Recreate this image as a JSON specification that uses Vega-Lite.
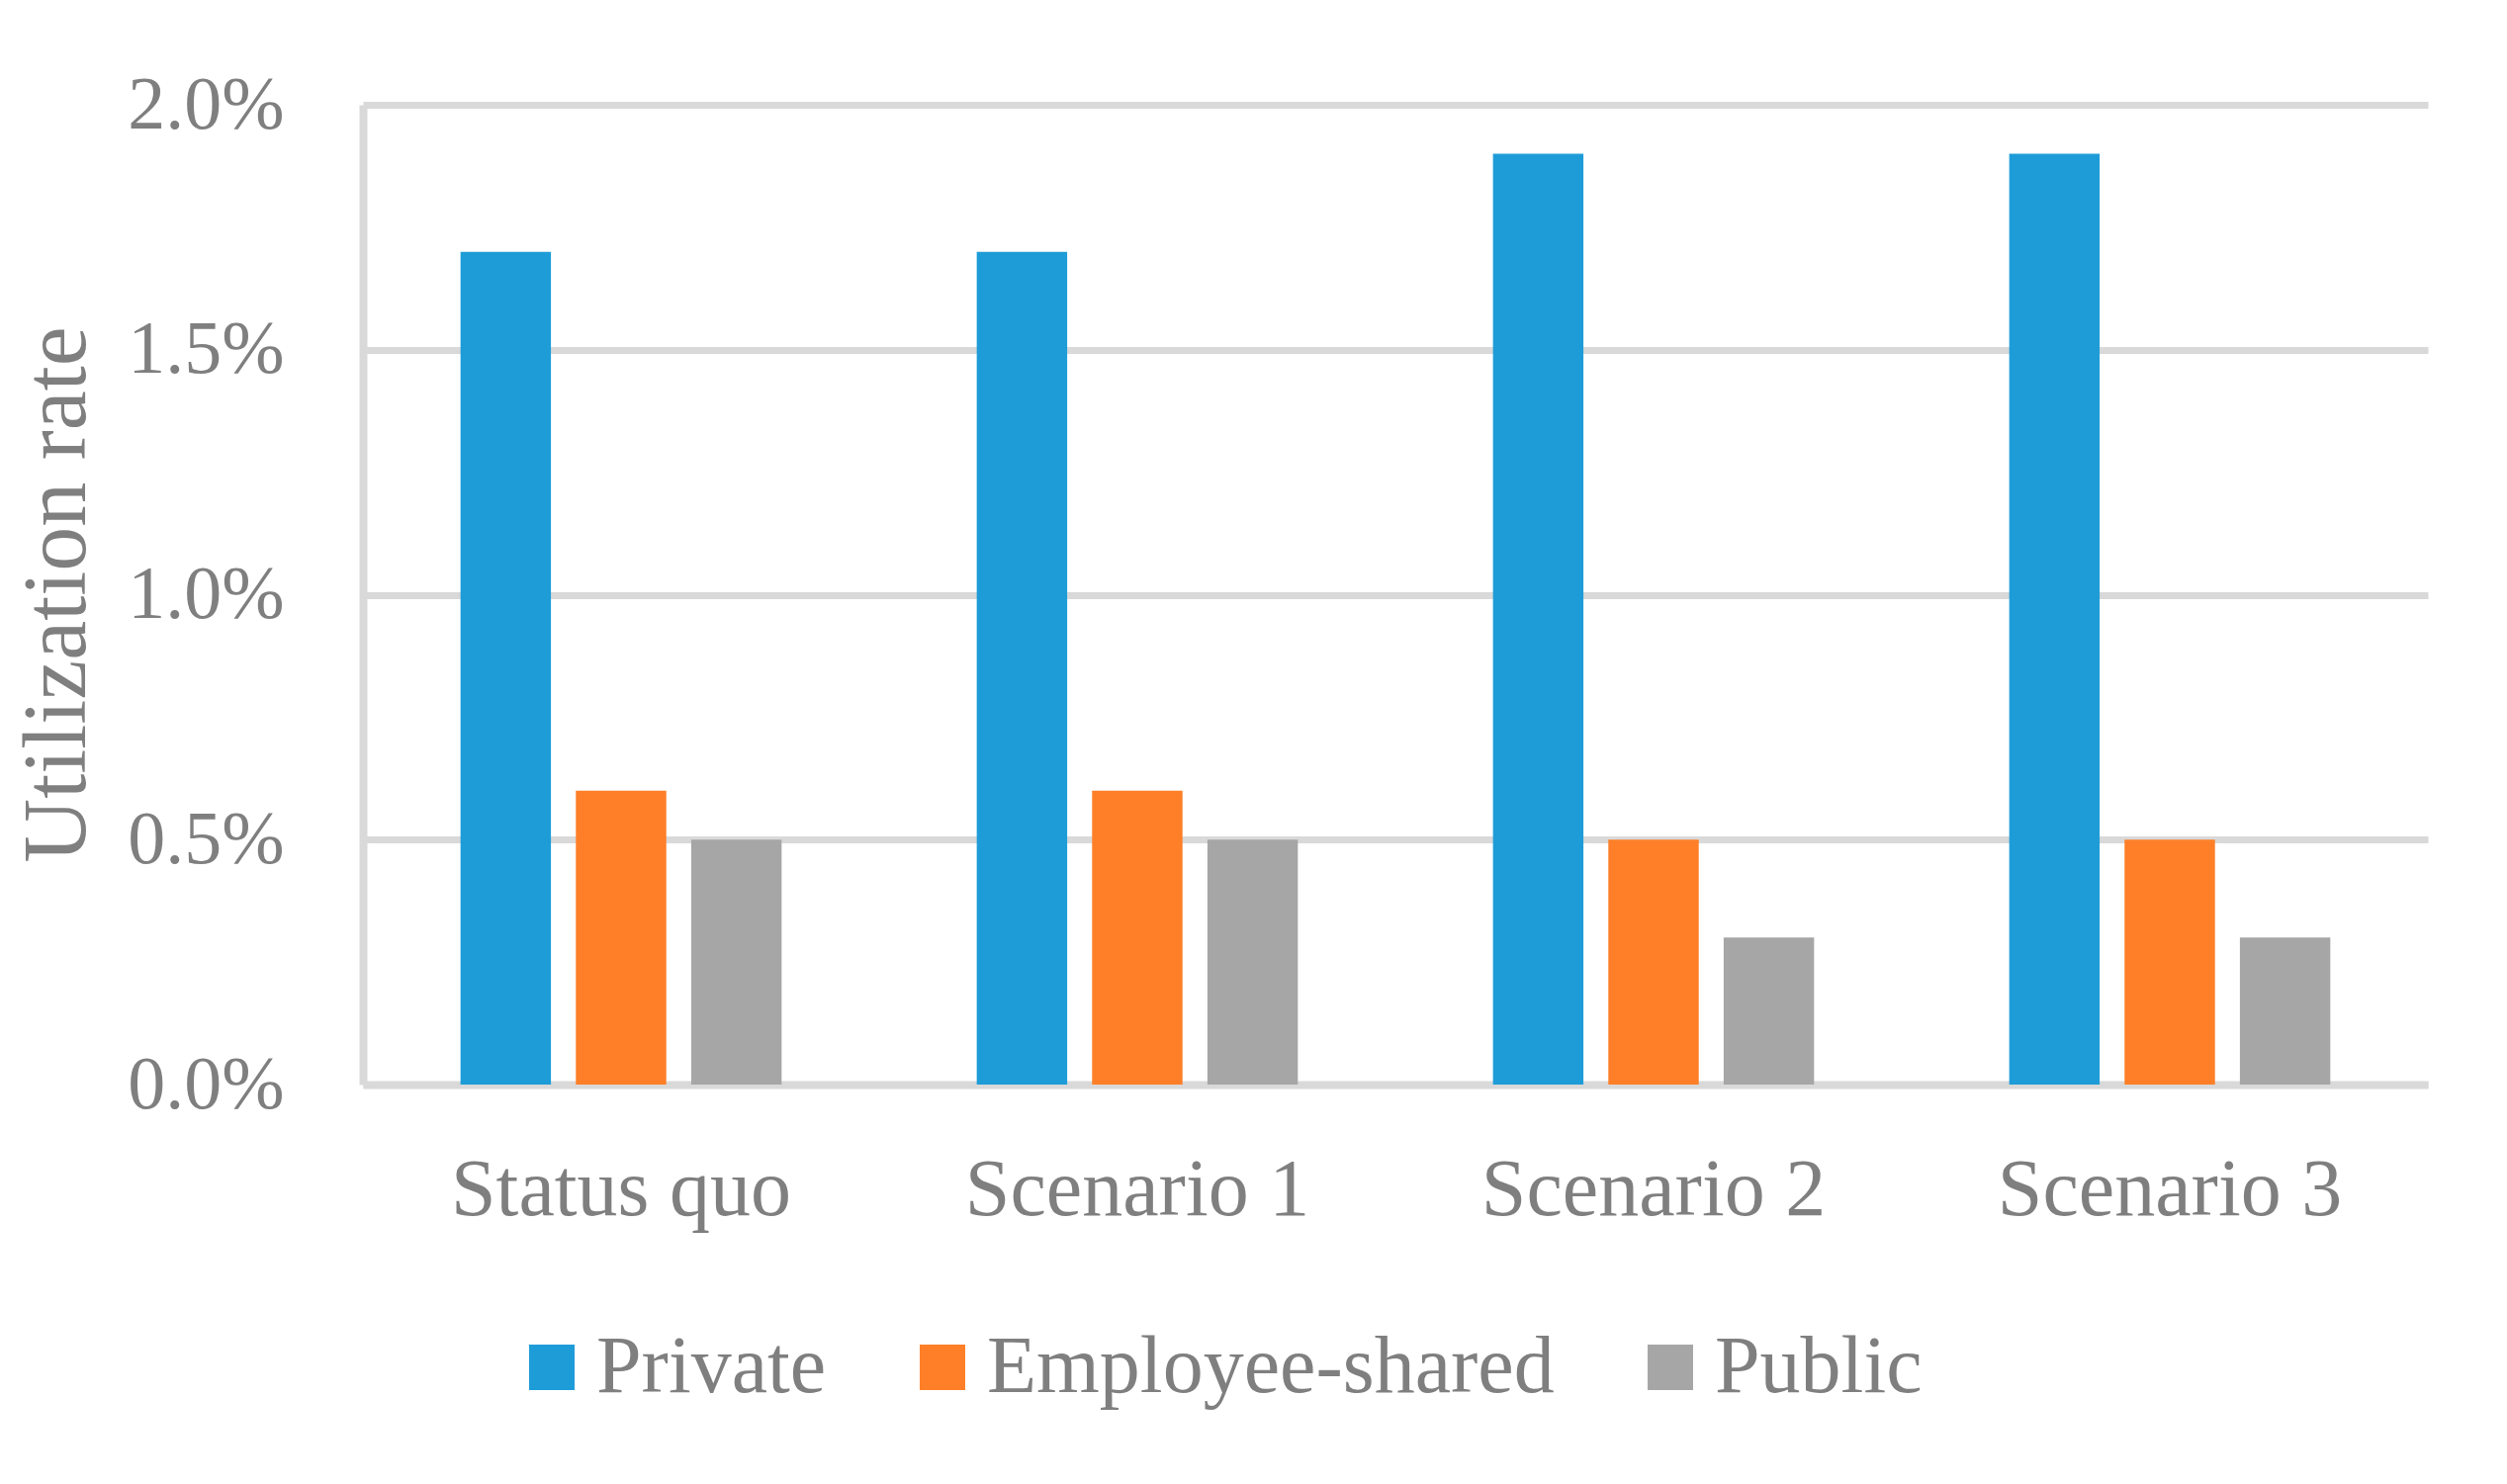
{
  "$schema": "https://vega.github.io/schema/vega-lite/v6.json",
  "autosize": "none",
  "width": 2088,
  "height": 991,
  "padding": {"left": 367, "top": 106, "right": 80, "bottom": 404},
  "background": "white",
  "config": {
    "view": {"stroke": null},
    "font": "Liberation Serif"
  },
  "data": {
    "values": [
      {"scenario": "Status quo", "type": "Private", "rate": 0.017},
      {"scenario": "Status quo", "type": "Employee-shared", "rate": 0.006},
      {"scenario": "Status quo", "type": "Public", "rate": 0.005},
      {"scenario": "Scenario 1", "type": "Private", "rate": 0.017},
      {"scenario": "Scenario 1", "type": "Employee-shared", "rate": 0.006},
      {"scenario": "Scenario 1", "type": "Public", "rate": 0.005},
      {"scenario": "Scenario 2", "type": "Private", "rate": 0.019},
      {"scenario": "Scenario 2", "type": "Employee-shared", "rate": 0.005},
      {"scenario": "Scenario 2", "type": "Public", "rate": 0.003},
      {"scenario": "Scenario 3", "type": "Private", "rate": 0.019},
      {"scenario": "Scenario 3", "type": "Employee-shared", "rate": 0.005},
      {"scenario": "Scenario 3", "type": "Public", "rate": 0.003}
    ]
  },
  "mark": {"type": "bar"},
  "encoding": {
    "x": {
      "field": "scenario",
      "type": "nominal",
      "sort": ["Status quo", "Scenario 1", "Scenario 2", "Scenario 3"],
      "scale": {"paddingInner": 0.378, "paddingOuter": 0.189},
      "axis": {
        "title": null,
        "labelAngle": 0,
        "labelFont": "Liberation Serif",
        "labelFontSize": 82,
        "labelColor": "#7F7F7F",
        "labelBaseline": "alphabetic",
        "labelPadding": 131,
        "labelLimit": 1000,
        "ticks": false,
        "tickSize": 0,
        "domainColor": "#D9D9D9",
        "domainWidth": 8,
        "grid": false
      }
    },
    "xOffset": {
      "field": "type",
      "type": "nominal",
      "sort": ["Private", "Employee-shared", "Public"],
      "scale": {"paddingInner": 0.216, "paddingOuter": 0}
    },
    "y": {
      "field": "rate",
      "type": "quantitative",
      "scale": {"domain": [0, 0.02], "nice": false},
      "axis": {
        "values": [0, 0.005, 0.01, 0.015, 0.02],
        "format": ".1%",
        "title": "Utilization rate",
        "titleFont": "Liberation Serif",
        "titleFontSize": 90,
        "titleFontWeight": "normal",
        "titleColor": "#7F7F7F",
        "titleAngle": -90,
        "titleAlign": "center",
        "titleBaseline": "alphabetic",
        "titleX": -282,
        "titleY": 495,
        "labelFont": "Liberation Serif",
        "labelFontSize": 76,
        "labelColor": "#7F7F7F",
        "labelPadding": 80,
        "ticks": false,
        "tickSize": 0,
        "domainColor": "#D9D9D9",
        "domainWidth": 8,
        "grid": true,
        "gridColor": "#D9D9D9",
        "gridWidth": 7
      }
    },
    "color": {
      "field": "type",
      "type": "nominal",
      "scale": {
        "domain": ["Private", "Employee-shared", "Public"],
        "range": ["#1E9CD8", "#FE7F27", "#A6A6A6"]
      },
      "legend": {
        "title": null,
        "orient": "none",
        "direction": "horizontal",
        "legendX": 150,
        "legendY": 1236,
        "padding": 0,
        "symbolType": "square",
        "symbolSize": 2116,
        "symbolStrokeWidth": 0,
        "labelFont": "Liberation Serif",
        "labelFontSize": 82,
        "labelColor": "#7F7F7F",
        "labelOffset": 4,
        "columnPadding": 76,
        "gridAlign": "none",
        "labelLimit": 1000
      }
    }
  }
}
